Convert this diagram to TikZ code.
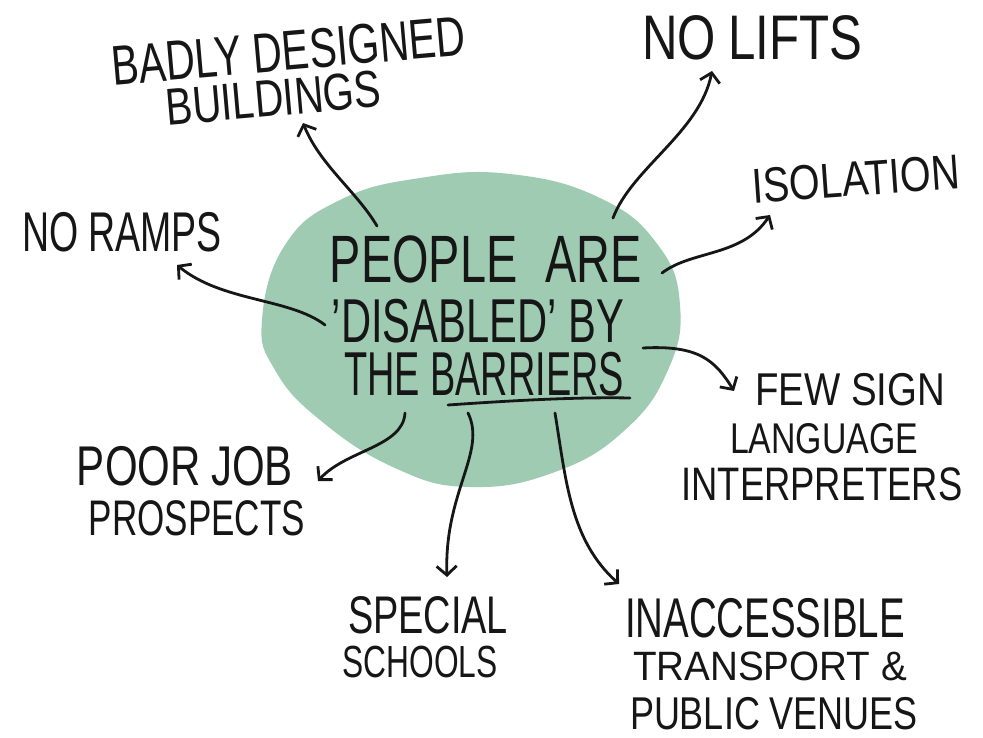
\documentclass[tikz,border=0pt]{standalone}
\usepackage{fontspec}
\setmainfont{Liberation Sans}
\usetikzlibrary{arrows.meta}
\definecolor{blobgreen}{RGB}{158,203,178}
\definecolor{ink}{RGB}{22,22,22}
\newcommand\handtext[3]{\fontsize{#1}{#1}\selectfont\resizebox{#2}{\height}{#3}}
\begin{document}
\begin{tikzpicture}[x=1pt,y=-1pt,
  lbl/.style={anchor=base, inner sep=0pt, text=ink},
  conn/.style={draw=ink, line width=2.8pt, line cap=round,
    -{Straight Barb[length=9pt,width=20pt,line width=2.8pt]}},
  uline/.style={draw=ink, line width=2.8pt, line cap=round}]
\useasboundingbox (0,0) rectangle (983,738);
\fill[white] (0,0) rectangle (983,738);
% green blob
\fill[blobgreen] plot[smooth cycle, tension=0.75] coordinates {
  (262,320) (285,245) (340,200) (420,178) (510,174) (600,198)
  (658,245) (680,305) (668,370) (625,430) (555,472) (470,487)
  (395,468) (320,420) (275,370)};
% central text
\node[lbl] (c1) at (486,283) {\handtext{67}{312pt}{PEOPLE\hspace{0.6em}ARE}};
\node[lbl] (c2) at (478,342) {\handtext{62}{292pt}{'DISABLED' BY}};
\node[lbl] (c3) at (484,395) {\handtext{62}{280pt}{THE BARRIERS}};
\coordinate (ul1) at (448,405);
\coordinate (ul2) at (630,398);
\draw[uline] (ul1) .. controls (520,400) and (580,397) .. (ul2);
% outer labels
\node[lbl, rotate=5] (bad1) at (290,70) {\handtext{56}{355pt}{BADLY DESIGNED}};
\node[lbl, rotate=5] (bad2) at (275,116) {\handtext{52}{216pt}{BUILDINGS}};
\node[lbl] (lifts) at (752,60) {\handtext{63}{220pt}{NO\hspace{0.25em}LIFTS}};
\node[lbl, rotate=4] (iso) at (857,196) {\handtext{49}{208pt}{ISOLATION}};
\node[lbl] (ramps) at (122,252) {\handtext{56}{200pt}{NO RAMPS}};
\node[lbl] (poor1) at (185,485) {\handtext{56}{216pt}{POOR\hspace{0.25em}JOB}};
\node[lbl] (poor2) at (197,535) {\handtext{50}{216pt}{PROSPECTS}};
\node[lbl] (spec1) at (428,633) {\handtext{53}{160pt}{SPECIAL}};
\node[lbl] (spec2) at (420,677) {\handtext{45}{155pt}{SCHOOLS}};
\node[lbl] (inac1) at (765,637) {\handtext{56}{280pt}{INACCESSIBLE}};
\node[lbl] (inac2) at (770,680) {\handtext{41}{274pt}{TRANSPORT \&}};
\node[lbl] (inac3) at (774,729) {\handtext{46}{288pt}{PUBLIC VENUES}};
\node[lbl] (few1) at (850,405) {\handtext{46}{190pt}{FEW SIGN}};
\node[lbl] (few2) at (824,453) {\handtext{43}{188pt}{LANGUAGE}};
\node[lbl] (few3) at (822,500) {\handtext{47}{281pt}{INTERPRETERS}};
% connector end points
\coordinate (sBad) at (377,226);   \coordinate (tBad) at (303,123);
\coordinate (sLift) at (613,218);  \coordinate (tLift) at (712,71);
\coordinate (sIso) at (662,273);   \coordinate (tIso) at (770,215);
\coordinate (sRamp) at (325,325);  \coordinate (tRamp) at (177,265);
\coordinate (sPoor) at (405,413);  \coordinate (tPoor) at (318,481);
\coordinate (sSpec) at (468,413);  \coordinate (tSpec) at (447,577);
\coordinate (sInac) at (555,413);  \coordinate (tInac) at (619,584);
\coordinate (sFew) at (643,348);   \coordinate (tFew) at (734,391);
% connectors
\draw[conn] (sBad) .. controls (357,192) and (320,165) .. (tBad);
\draw[conn] (sLift) .. controls (632,168) and (700,132) .. (tLift);
\draw[conn] (sIso) .. controls (692,250) and (742,257) .. (tIso);
\draw[conn] (sRamp) .. controls (290,298) and (222,302) .. (tRamp);
\draw[conn] (sPoor) .. controls (403,447) and (346,450) .. (tPoor);
\draw[conn] (sSpec) .. controls (487,452) and (444,492) .. (tSpec);
\draw[conn] (sInac) .. controls (566,480) and (570,540) .. (tInac);
\draw[conn] (sFew) .. controls (698,345) and (715,360) .. (tFew);
\end{tikzpicture}
\end{document}
